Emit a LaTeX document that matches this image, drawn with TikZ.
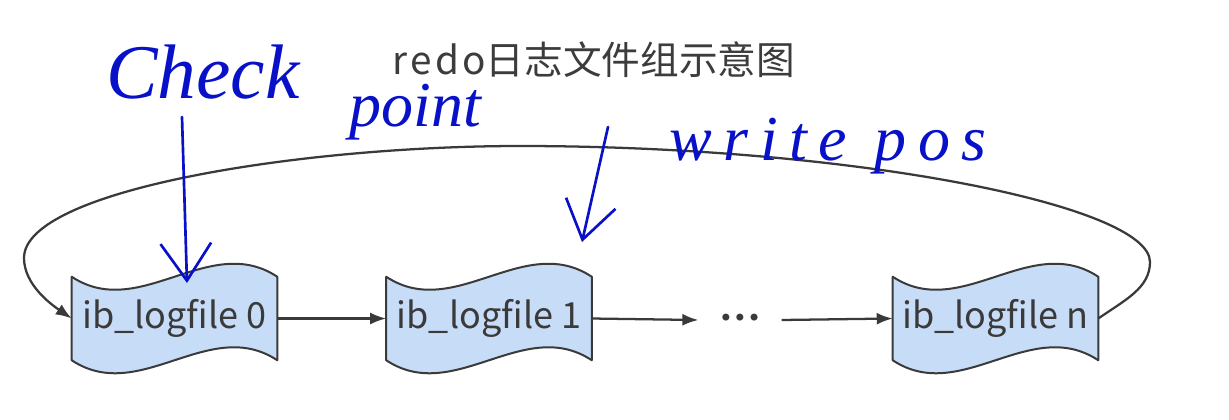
\documentclass[tikz,border=0pt]{standalone}
\usepackage{fontspec}
\usetikzlibrary{arrows.meta,backgrounds}
\newfontfamily\cjk{Noto Sans CJK SC}
\newfontfamily\cjkspaced[LetterSpace=8]{Noto Sans CJK SC}
\newfontfamily\hand{Liberation Serif}
\newfontfamily\handspaced[LetterSpace=18]{Liberation Serif}
\newfontfamily\dotsfont{DejaVu Sans}
\definecolor{boxfill}{RGB}{199,220,247}
\definecolor{edge}{RGB}{58,58,58}
\definecolor{ink}{RGB}{8,16,200}
\definecolor{titlecol}{RGB}{60,60,60}
\begin{document}
\begin{tikzpicture}[x=0.75pt,y=-0.75pt,
 filebox/.style={rectangle,minimum width=153.75pt,minimum height=62.25pt,inner sep=0pt,font=\cjk\fontsize{27}{27}\selectfont,text=edge},
 tapeshape/.style={fill=boxfill,draw=edge,line width=1.5pt,line join=round},
 flow/.style={draw=edge,line width=1.7pt,-{Latex[length=12pt,width=9pt]}},
 handtext/.style={text=ink,inner sep=0pt},
 handarrow/.style={draw=ink,line width=2pt,line cap=round,line join=round,-{Straight Barb[length=28pt,width=38pt,line width=2pt]}}
]
\useasboundingbox (0,0) rectangle (1229,419);

% file boxes
\node[filebox] (b0) at (174.5,318.5) {ib\_logfile 0};
\node[filebox] (b1) at (489,318.5) {ib\_logfile 1};
\node[filebox] (bn) at (995.5,318.5) {ib\_logfile n};
\begin{pgfonlayer}{background}
\foreach \b in {b0,b1,bn}{
  \draw[tapeshape] (\b.north west) .. controls +(68,45) and +(-68,-45) .. (\b.north east)
    -- (\b.south east) .. controls +(-68,-45) and +(68,45) .. (\b.south west) -- cycle;
}
\end{pgfonlayer}

% dots
\node[minimum width=62pt,inner sep=0pt,font=\dotsfont\fontsize{18}{18}\selectfont,text=edge] (dots) at (740,320) {•••};

% title
\node[text=titlecol,font=\cjk\fontsize{29}{29}\selectfont] (title) at (594,60) {{\cjkspaced redo}日志文件组示意图};

% flow connectors
\draw[flow] (b0.east) -- (b1.west);
\draw[flow] (b1.east) -- (dots.west);
\draw[flow] (dots.east) -- (bn.west);
\draw[flow] (bn.east) .. controls (1125,300) and (1150,288) .. (1150,262)
  .. controls (1150,205) and (850,146) .. (520,146)
  .. controls (300,146) and (24,190) .. (24,258)
  .. controls (24,285) and (52,305) .. (b0.west);

% handwritten annotations
\node[handtext,font=\hand\itshape\fontsize{58}{58}\selectfont] (check) at (203,72) {Check};
\node[handtext,font=\hand\itshape\fontsize{48}{48}\selectfont] (point) at (415,112) {point};
\node[handtext,font=\handspaced\itshape\fontsize{48}{48}\selectfont] (wpos) at (828,146) {write pos};
\coordinate (ckfrom) at (182,117);
\coordinate (ckto) at (187,283);
\coordinate (wpfrom) at (608,127);
\coordinate (wpto) at (582,242);
\draw[handarrow] (ckfrom) -- (ckto);
\draw[handarrow] (wpfrom) -- (wpto);
\end{tikzpicture}
\end{document}
